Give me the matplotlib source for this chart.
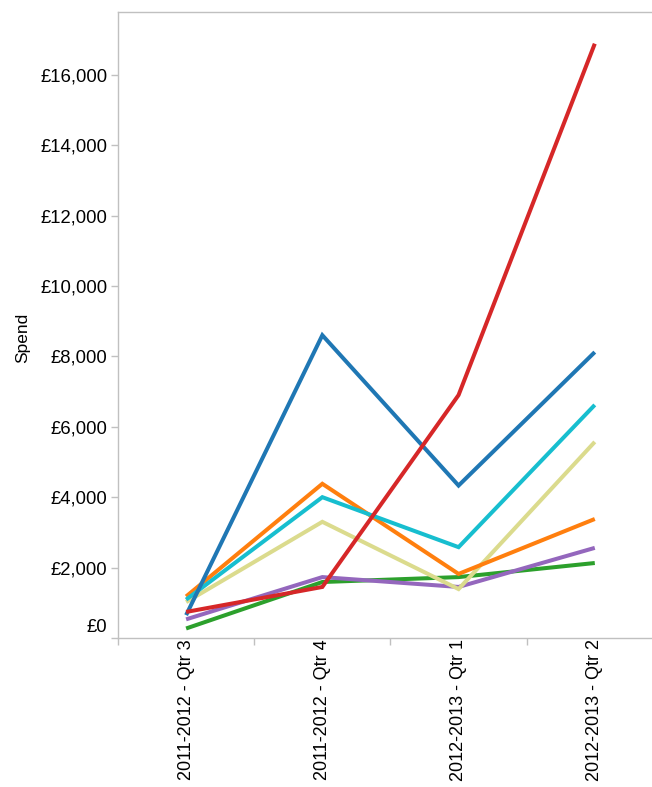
import matplotlib
matplotlib.use('Agg')
import matplotlib.pyplot as plt
import matplotlib.ticker as mticker
from matplotlib.transforms import ScaledTranslation

plt.rcParams['font.family'] = ['Liberation Sans', 'DejaVu Sans']

quarters = ['2011-2012 - Qtr 3', '2011-2012 - Qtr 4', '2012-2013 - Qtr 1', '2012-2013 - Qtr 2']

# spend per series, one value per quarter
blue = [650, 8600, 4330, 8120]
red = [740, 1450, 6900, 16880]
cyan = [1090, 4000, 2580, 6620]
khaki = [1020, 3300, 1390, 5570]
orange = [1180, 4380, 1820, 3380]
purple = [530, 1730, 1450, 2560]
green = [270, 1590, 1730, 2130]

series = [
    (green, '#2ca02c'),
    (purple, '#9467bd'),
    (khaki, '#dbdb8d'),
    (orange, '#ff7f0e'),
    (cyan, '#17becf'),
    (blue, '#1f77b4'),
    (red, '#d62728'),
]

fig = plt.figure(figsize=(6.52, 7.87), dpi=100)
ax = fig.add_axes([118 / 652, 1 - 638 / 787, 1 - 118 / 652, (638 - 12) / 787])

x = list(range(len(quarters)))
for vals, col in series:
    ax.plot(x, vals, color=col, lw=2.9, solid_joinstyle='miter', solid_capstyle='butt')

ax.set_xlim(-0.5, 3.42)
ax.set_ylim(0, 17780)

ax.set_xticks(x)
ax.set_xticklabels(quarters, rotation=90, fontsize=13)
ax.set_xticks([-0.5, 0.5, 1.5, 2.5], minor=True)
ax.tick_params(axis='x', which='major', length=0, pad=1)
ax.tick_params(axis='x', which='minor', length=5, color='#c0c0c0', width=1)

ax.set_yticks(range(0, 16001, 2000))
ax.yaxis.set_major_formatter(mticker.FuncFormatter(lambda v, p: '£{:,.0f}'.format(v)))
ax.tick_params(axis='y', length=5, color='#c0c0c0', width=1, labelsize=13.3, pad=2.5)

ax.set_ylabel('Spend', fontsize=12.5)
ax.yaxis.set_label_coords(-0.165, 0.48)

for s in ['left', 'bottom', 'top']:
    ax.spines[s].set_color('#c0c0c0')
    ax.spines[s].set_linewidth(1)
ax.spines['right'].set_visible(False)

# nudge the £0 label up so it sits inside the chart, as in the original
lbl0 = ax.get_yticklabels()[0]
lbl0.set_transform(lbl0.get_transform() + ScaledTranslation(0, 0.12, fig.dpi_scale_trans))

fig.savefig('out.png', dpi=100)
plt.close(fig)
